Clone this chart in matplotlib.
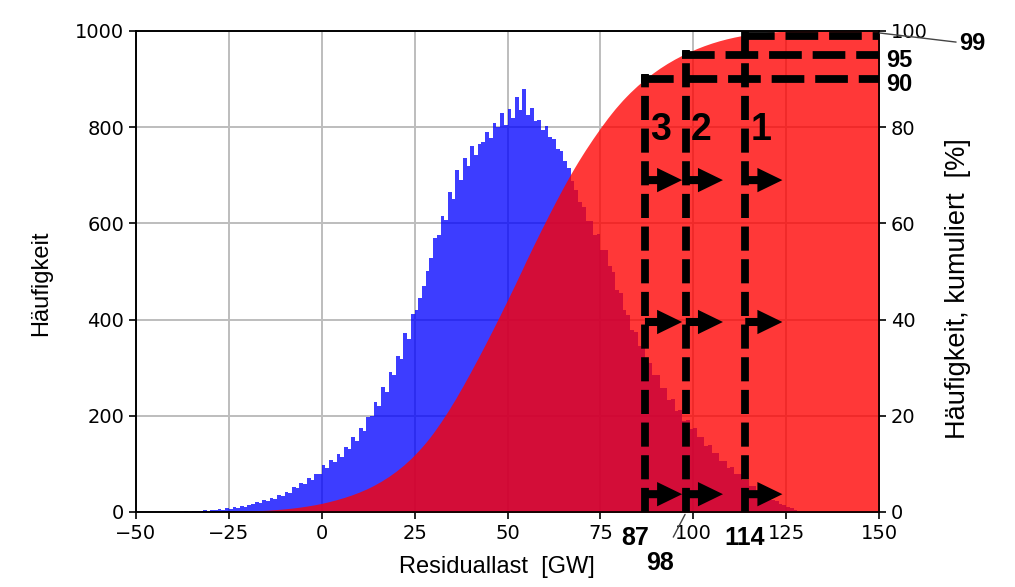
import numpy as np
import matplotlib
matplotlib.use("Agg")
import matplotlib.pyplot as plt

# Histogram of residual load, 1 GW bins starting at -40 GW
bin_start = -40
counts = [
    0, 1, 0, 2, 1, 3, 2, 2, 4, 3,
    5, 4, 6, 5, 8, 7, 10, 9, 12, 11,
    15, 16, 20, 18, 24, 23, 29, 27, 35, 34,
    42, 40, 52, 49, 60, 58, 70, 66, 80, 78,
    98, 92, 108, 104, 120, 115, 136, 130, 155, 148,
    175, 168, 198, 200, 228, 220, 260, 250, 290, 285,
    325, 318, 372, 360, 412, 420, 445, 470, 500, 528,
    570, 575, 615, 608, 665, 650, 712, 690, 735, 720,
    760, 742, 765, 770, 790, 778, 808, 800, 830, 805,
    838, 820, 862, 835, 880, 826, 840, 812, 815, 795,
    802, 780, 776, 755, 750, 730, 715, 688, 670, 645,
    635, 605, 605, 575, 578, 545, 545, 512, 498, 462,
    455, 420, 410, 378, 375, 345, 340, 312, 310, 285,
    285, 258, 258, 232, 234, 210, 212, 190, 192, 172,
    175, 155, 156, 138, 140, 122, 122, 106, 106, 92,
    93, 80, 80, 66, 66, 55, 54, 44, 42, 35,
    33, 25, 23, 17, 15, 10, 9, 5, 3, 2,
]

# Thresholds: residual load [GW] at the cumulative share [%]
threshold_gw = [87, 98, 114]
threshold_pct = [90, 95, 99]
zone_labels = ["3", "2", "1"]
arrow_levels = [69, 39.5, 3.7]

x_ticks = [-50, -25, 0, 25, 50, 75, 100, 125, 150]
y_ticks = [0, 200, 400, 600, 800, 1000]
y2_ticks = [0, 20, 40, 60, 80, 100]

edges = np.arange(bin_start, bin_start + len(counts) + 1)
counts = np.array(counts, dtype=float)
cum = np.concatenate([[0.0], np.cumsum(counts) / counts.sum() * 100])
cum_x = np.concatenate([edges, [150]])
cum_y = np.concatenate([cum, [100.0]])

fig = plt.figure(figsize=(10.15, 5.87), dpi=100)
ax = fig.add_axes([0.134, 0.1278, 0.732, 0.8194])

ax.grid(True, color="#bdbdbd", lw=1.4, zorder=0)
ax.set_axisbelow(True)
ax.stairs(counts, edges, fill=True, color="blue", alpha=0.76, lw=0, zorder=2)

ax.set_xlim(-50, 150)
ax.set_ylim(0, 1000)
ax.set_xticks(x_ticks)
ax.set_yticks(y_ticks)
ax.tick_params(labelsize=14, length=5, width=1.2)
ax.set_xlabel("Residuallast  [GW]", fontsize=17, family="Liberation Sans")
ax.set_ylabel("Häufigkeit", fontsize=17, family="Liberation Sans")
ax.xaxis.set_label_coords(0.486, -0.092)
ax.yaxis.set_label_coords(-0.113, 0.475)

ax2 = ax.twinx()
ax2.fill_between(cum_x, 0, cum_y, color="red", alpha=0.78, lw=0, zorder=1)
ax2.set_ylim(0, 100)
ax2.set_yticks(y2_ticks)
ax2.tick_params(labelsize=14, length=5, width=1.2)
ax2.set_ylabel("Häufigkeit, kumuliert  [%]", fontsize=19.5, family="Liberation Sans")
ax2.yaxis.set_label_coords(1.089, 0.465)
for sp in list(ax.spines.values()) + list(ax2.spines.values()):
    sp.set_linewidth(1.2)

# Threshold markers: vertical drop line, horizontal line to the right edge, arrows
for gw, pct in zip(threshold_gw, threshold_pct):
    ax2.plot([gw, gw], [0, pct + 1], color="black", lw=5.6,
             dashes=(3.1, 1.1), dash_capstyle="butt", zorder=5, clip_on=False)
    ax2.plot([gw - 1, 150], [pct, pct], color="black", lw=5.6,
             dashes=(4.2, 1.4), dash_capstyle="butt", zorder=5)
    for lvl in arrow_levels:
        ax2.annotate("", xy=(gw + 10, lvl), xytext=(gw, lvl),
                     arrowprops=dict(arrowstyle="simple,head_length=1.8,head_width=1.75,tail_width=0.58",
                                     fc="black", ec="none", lw=0, mutation_scale=10,
                                     shrinkA=0, shrinkB=0),
                     zorder=6)

bold = dict(family="Liberation Sans", weight="bold", color="black")
for gw, lab in zip(threshold_gw, zone_labels):
    ax2.text(gw + 4.2, 79.5, lab, fontsize=27, ha="center", va="center", **bold)

# Percent labels on the right
for pct in threshold_pct[:2]:
    ax2.text(151.8, pct - 1.2, str(pct), fontsize=17, ha="left", va="center",
             clip_on=False, **bold)
ax2.annotate("99", xy=(150, 99.6), xytext=(171.5, 97.3), fontsize=17,
             ha="left", va="center", annotation_clip=False,
             arrowprops=dict(arrowstyle="-", color="#444444", lw=1.0,
                             shrinkA=0, shrinkB=0), **bold)

# GW labels below the axis
ax2.text(84.3, -5.4, "87", fontsize=18, ha="center", va="center", clip_on=False, **bold)
ax2.text(113.9, -5.4, "114", fontsize=18, ha="center", va="center", clip_on=False, **bold)
ax2.annotate("98", xy=(97.8, -0.5), xytext=(91.0, -10.6), fontsize=18,
             ha="center", va="center", annotation_clip=False,
             arrowprops=dict(arrowstyle="-", color="#444444", lw=1.0,
                             shrinkA=9, shrinkB=0), **bold)

fig.savefig("out.png", dpi=100)
